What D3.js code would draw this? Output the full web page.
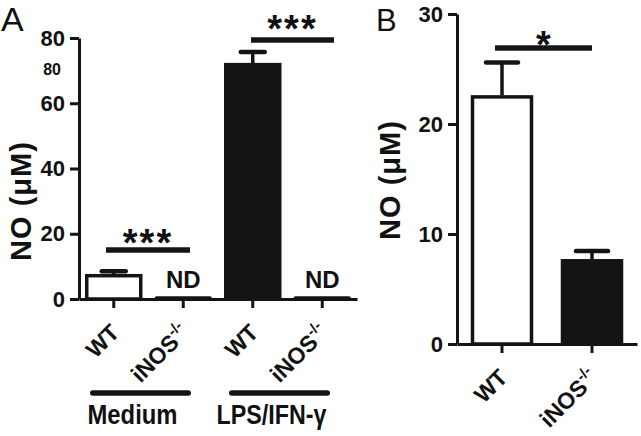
<!DOCTYPE html>
<html><head><meta charset="utf-8">
<script src="https://cdn.jsdelivr.net/npm/d3@7"></script>
<style>
body{margin:0;background:#fff;}
svg{display:block;}
text{font-family:"Liberation Sans",Arial,sans-serif;fill:#111;}
</style></head>
<body>
<svg id="chart" width="641" height="436"></svg>
<script>
// ---------- DATA ----------
const panelA_categories = ["WT", "iNOS", "WT", "iNOS"];
const panelA_groups = ["Medium", "LPS/IFN-γ"];
const panelA_values = [7.6, 0, 72.3, 0];
const panelA_sem = [0.9, 0, 3.4, 0];
const panelA_fill = ["white", "black", "black", "black"];
const panelA_nd = [false, true, false, true];
const panelA_ticks = [0, 20, 40, 60, 80];
const panelA_sig = [{from: 0, to: 1, label: "***"}, {from: 2, to: 3, label: "***"}];

const panelB_categories = ["WT", "iNOS"];
const panelB_values = [22.6, 7.7];
const panelB_sem = [3.0, 0.75];
const panelB_fill = ["white", "black"];
const panelB_ticks = [0, 10, 20, 30];
const panelB_sig = [{from: 0, to: 1, label: "*"}];

const yTitle = "NO (μM)";
const BLACK = "#141414";

const svg = d3.select("#chart");

function drawPanel(opt) {
  const g = svg.append("g");
  const y = d3.scaleLinear().domain(opt.domain).range([opt.y0, opt.y1]);
  const x = d3.scaleBand().domain(d3.range(opt.values.length)).range([opt.x0, opt.x1]);
  const cx = i => x(i) + x.bandwidth() / 2;

  // y axis
  const ya = g.append("g").attr("transform", `translate(${opt.x0},0)`)
    .call(d3.axisLeft(y).tickValues(opt.ticks).tickSize(9).tickSizeOuter(0).tickPadding(5));
  ya.selectAll("path,line").attr("stroke", BLACK).attr("stroke-width", 3);
  ya.selectAll("text").attr("font-size", 22).attr("font-weight", "bold").attr("fill", "#111")
    .attr("font-family", "Liberation Sans, Arial, sans-serif");

  // bars
  opt.values.forEach((v, i) => {
    const bw = opt.barW;
    if (opt.nd && opt.nd[i]) {
      g.append("line").attr("x1", cx(i) - bw / 2 + 2).attr("x2", cx(i) + bw / 2 - 2)
        .attr("y1", y(0) - 0.5).attr("y2", y(0) - 0.5)
        .attr("stroke", BLACK).attr("stroke-width", 4.5).attr("stroke-linecap", "round");
      g.append("text").attr("x", cx(i)).attr("y", y(0) - 11).attr("text-anchor", "middle")
        .attr("font-size", 24).attr("font-weight", "bold").text("ND");
      return;
    }
    const top = y(v + opt.sem[i]);
    g.append("line").attr("x1", cx(i)).attr("x2", cx(i)).attr("y1", y(v)).attr("y2", top)
      .attr("stroke", BLACK).attr("stroke-width", 3.5);
    g.append("line").attr("x1", cx(i) - opt.capW / 2).attr("x2", cx(i) + opt.capW / 2)
      .attr("y1", top).attr("y2", top)
      .attr("stroke", BLACK).attr("stroke-width", 4.5).attr("stroke-linecap", "round");
    g.append("rect").attr("x", cx(i) - bw / 2 + 1.5).attr("width", bw - 3)
      .attr("y", y(v) + 1.5).attr("height", y(0) - y(v) - 1.5)
      .attr("fill", opt.fill[i] === "white" ? "#fff" : BLACK)
      .attr("stroke", BLACK).attr("stroke-width", 3.5);
  });

  // x axis
  const xa = g.append("g").attr("transform", `translate(0,${opt.y0})`)
    .call(d3.axisBottom(x).tickSize(9).tickSizeOuter(0).tickFormat(""));
  xa.selectAll("path,line").attr("stroke", BLACK).attr("stroke-width", 3);

  // x labels rotated
  opt.cats.forEach((c, i) => {
    const t = g.append("text")
      .attr("transform", `translate(${cx(i) + 7},${opt.y0 + 35}) rotate(-45)`)
      .attr("text-anchor", "end").attr("font-size", 23).attr("font-weight", "bold");
    if (c === "iNOS") {
      t.append("tspan").text("iNOS");
      t.append("tspan").attr("font-size", 15).attr("dy", -10).text("-/-");
    } else {
      t.text(c);
    }
  });

  // significance
  opt.sig.forEach(s => {
    g.append("line").attr("x1", s.x1).attr("x2", s.x2).attr("y1", s.y).attr("y2", s.y)
      .attr("stroke", BLACK).attr("stroke-width", 5.5);
    g.append("text").attr("x", (s.x1 + s.x2) / 2 + s.dx).attr("y", s.y + s.dy)
      .attr("text-anchor", "middle").attr("font-size", 38).attr("font-weight", "bold")
      .attr("letter-spacing", s.label.length > 1 ? 2 : 0).text(s.label);
  });

  // y title
  g.append("text").attr("transform", `translate(${opt.titleX},${opt.titleY}) rotate(-90)`)
    .attr("text-anchor", "middle").attr("font-size", 29).attr("font-weight", "bold")
    .attr("letter-spacing", 1).text(yTitle);

  // panel letter
  g.append("text").attr("x", opt.letterX).attr("y", opt.letterY)
    .attr("font-size", opt.letterSize).attr("font-family", "Liberation Sans, Arial, sans-serif")
    .text(opt.letter);
  return {x, y, cx};
}

const A = drawPanel({
  values: panelA_values, sem: panelA_sem, fill: panelA_fill, nd: panelA_nd,
  cats: panelA_categories, ticks: panelA_ticks, domain: [0, 80],
  x0: 79, x1: 357, y0: 299, y1: 38, barW: 57, capW: 24,
  sig: [
    {x1: 106, x2: 190, y: 250, dx: 0, dy: 6, label: panelA_sig[0].label},
    {x1: 251, x2: 334, y: 40, dx: 0, dy: 2, label: panelA_sig[1].label}
  ],
  titleX: 31, titleY: 201, letter: "A", letterX: 1, letterY: 31, letterSize: 34
});

const B = drawPanel({
  values: panelB_values, sem: panelB_sem, fill: panelB_fill, nd: null,
  cats: panelB_categories, ticks: panelB_ticks, domain: [0, 30],
  x0: 457, x1: 637, y0: 344, y1: 14, barW: 62, capW: 32,
  sig: [{x1: 495, x2: 592, y: 48, dx: 0, dy: 10, label: panelB_sig[0].label}],
  titleX: 400, titleY: 180, letter: "B", letterX: 376, letterY: 31, letterSize: 31
});

// stray duplicated tick label in panel A
svg.append("text").attr("x", 61).attr("y", 75).attr("text-anchor", "end")
  .attr("font-size", 16).attr("font-weight", "bold").text(String(panelA_ticks[4]));

// group labels under panel A
const groupSpan = [[0, 1], [2, 3]];
panelA_groups.forEach((gname, k) => {
  const a = A.cx(groupSpan[k][0]), b = A.cx(groupSpan[k][1]);
  const mid = (a + b) / 2;
  svg.append("line").attr("x1", a - 21).attr("x2", b + 5).attr("y1", 393).attr("y2", 393)
    .attr("stroke", BLACK).attr("stroke-width", 5.5).attr("stroke-linecap", "round");
  svg.append("text").attr("x", mid - 16).attr("y", 424).attr("text-anchor", "middle")
    .attr("font-family", "Noto Sans CJK KR, Noto Sans, sans-serif").attr("font-weight", "bold")
    .attr("font-size", 27).attr("textLength", k === 0 ? 90 : 110).attr("lengthAdjust", "spacingAndGlyphs")
    .text(gname);
});
</script>
</body></html>
